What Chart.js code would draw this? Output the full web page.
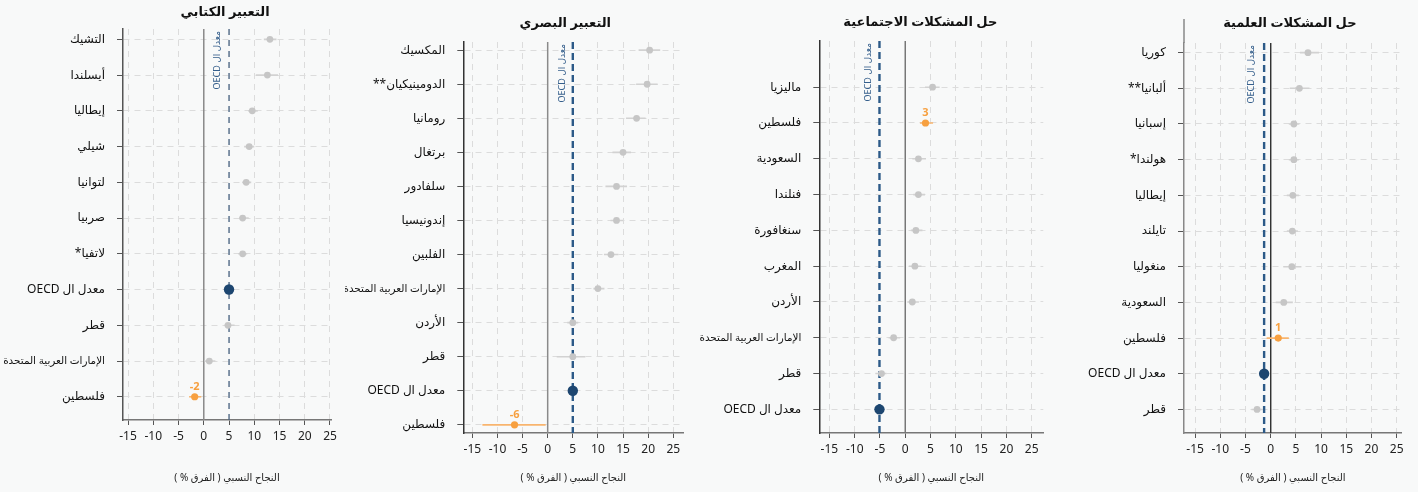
<!DOCTYPE html>
<html lang="ar">
<head>
<meta charset="utf-8">
<script src="https://cdn.jsdelivr.net/npm/chart.js@4.4.1/dist/chart.umd.min.js"></script>
<style>
  html, body { margin: 0; padding: 0; background: #f8f9f9; }
  #wrap { position: relative; width: 1418px; height: 492px; overflow: hidden; }
  .pn { position: absolute; top: 0; height: 492px; }
</style>
</head>
<body>
<div id="wrap">
  <div class="pn" style="left:0;width:345px"><canvas id="c1"></canvas></div>
  <div class="pn" style="left:345px;width:350px"><canvas id="c2"></canvas></div>
  <div class="pn" style="left:695px;width:360px"><canvas id="c3"></canvas></div>
  <div class="pn" style="left:1055px;width:363px"><canvas id="c4"></canvas></div>
</div>
<script>
// ---- data ----
const xTicks = [-15, -10, -5, 0, 5, 10, 15, 20, 25];
const xTitle = 'النجاح النسبي ( الفرق % )';
const oecdName = 'معدل ال OECD';
const palName = 'فلسطين';

// التعبير الكتابي
const p1Title = 'التعبير الكتابي';
const p1Labels = ['التشيك', 'أيسلندا', 'إيطاليا', 'شيلي', 'لتوانيا', 'صربيا', 'لاتفيا*', oecdName, 'قطر', 'الإمارات العربية المتحدة', palName];
const p1Values = [13.1, 12.6, 9.6, 9.0, 8.4, 7.7, 7.7, 5.0, 4.8, 1.1, -1.8];
const p1Low    = [11.9, 10.3, 8.8, 8.0, 7.6, 7.0, 6.8, null, 4.1, 0.1, -2.9];
const p1High   = [14.4, 14.7, 10.7, 10.0, 9.4, 8.9, 8.6, null, 6.1, 2.3, -0.5];
const p1PalText = '-2';

// التعبير البصري
const p2Title = 'التعبير البصري';
const p2Labels = ['المكسيك', 'الدومينيكيان**', 'رومانيا', 'برتغال', 'سلفادور', 'إندونيسيا', 'الفلبين', 'الإمارات العربية المتحدة', 'الأردن', 'قطر', oecdName, palName];
const p2Values = [20.3, 19.8, 17.7, 15.0, 13.7, 13.7, 12.6, 10.0, 5.0, 5.0, 5.0, -6.6];
const p2Low    = [18.1, 17.6, 15.6, 12.9, 11.5, 12.5, 11.2, 9.1, 3.9, 1.8, null, -13.0];
const p2High   = [22.4, 21.9, 19.5, 16.6, 15.8, 15.0, 14.1, 11.3, 6.1, 7.5, null, -0.4];
const p2PalText = '-6';

// حل المشكلات الاجتماعية
const p3Title = 'حل المشكلات الاجتماعية';
const p3Labels = ['ماليزيا', palName, 'السعودية', 'فنلندا', 'سنغافورة', 'المغرب', 'الأردن', 'الإمارات العربية المتحدة', 'قطر', oecdName];
const p3Values = [5.4, 4.0, 2.6, 2.6, 2.1, 1.9, 1.4, -2.3, -4.7, -5.1];
const p3Low    = [3.9, 2.9, 1.4, 1.6, 1.1, 0.7, 0.4, -3.3, -5.9, null];
const p3High   = [6.8, 5.5, 4.1, 3.9, 3.4, 3.2, 2.7, -1.0, -3.7, null];
const p3PalText = '3';

// حل المشكلات العلمية
const p4Title = 'حل المشكلات العلمية';
const p4Labels = ['كوريا', 'ألبانيا**', 'إسبانيا', 'هولندا*', 'إيطاليا', 'تايلند', 'منغوليا', 'السعودية', palName, oecdName, 'قطر'];
const p4Values = [7.4, 5.7, 4.6, 4.6, 4.4, 4.3, 4.2, 2.6, 1.5, -1.3, -2.7];
const p4Low    = [5.8, 3.8, 3.6, 3.6, 3.2, 3.2, 2.5, 1.0, -0.8, null, -3.8];
const p4High   = [9.6, 7.7, 5.7, 5.6, 5.6, 5.4, 6.1, 4.4, 3.6, null, -1.6];
const p4PalText = '1';

// ---- style ----
const FONT = "'Noto Sans', 'DejaVu Sans', sans-serif";
const GREY = '#c6c6c6', BAR = '#d2d2d2', ORANGE = '#f7a040', NAVY = '#1d4670', DASH = '#2c5a88';
const GRID = '#dcdcdc';
Chart.defaults.font.family = FONT;

// right-to-left embedding so mixed Arabic/Latin strings read correctly
const ar = s => '\u202B' + s + '\u202C';

const panelDeco = {
  id: 'panelDeco',
  afterDatasetsDraw(chart, args, o) {
    const { ctx, chartArea: ca, scales: { x, y } } = chart;
    ctx.save();
    // title
    ctx.font = 'bold 13px ' + FONT;
    ctx.fillStyle = '#111';
    ctx.textAlign = 'center';
    ctx.textBaseline = 'middle';
    ctx.fillText(ar(o.title), (ca.left + ca.right) / 2 + o.titleDx, o.titleY);
    ctx.restore();

    // vertical OECD label next to dashed line
    ctx.save();
    const ox = x.getPixelForValue(o.oecd);
    ctx.translate(ox - o.oecdDx, ca.top + 2);
    ctx.rotate(-Math.PI / 2);
    ctx.font = '9px ' + FONT;
    ctx.fillStyle = '#355f8c';
    ctx.textAlign = 'right';
    ctx.textBaseline = 'middle';
    ctx.fillText(ar(oecdName), 0, 0);
    ctx.restore();

    ctx.save();
    // Palestine value label
    ctx.font = 'bold 11px ' + FONT;
    ctx.fillStyle = ORANGE;
    ctx.textAlign = 'center';
    ctx.textBaseline = 'middle';
    ctx.fillText(o.palText, x.getPixelForValue(o.palX), y.getPixelForValue(o.palY) - 10);
    // extended y axis line (last panel)
    if (o.axisUp) {
      ctx.strokeStyle = o.axisColor;
      ctx.lineWidth = 1.5;
      ctx.beginPath();
      ctx.moveTo(ca.left, ca.top);
      ctx.lineTo(ca.left, ca.top - o.axisUp);
      ctx.stroke();
    }
    ctx.restore();
  }
};

function buildPanel(id, title, labels, values, low, high, palText, box) {
  const oi = labels.indexOf(oecdName);
  const pi = labels.indexOf(palName);
  const oecd = values[oi];

  const greyBars = [], palBar = [];
  labels.forEach((_, i) => {
    if (low[i] == null) return;
    const seg = [{ x: low[i], y: i }, { x: high[i], y: i }];
    if (i === pi) palBar.push(...seg);
    else greyBars.push(...seg, { x: null, y: null });
  });

  const dotColor = labels.map((_, i) => i === oi ? NAVY : i === pi ? ORANGE : GREY);
  const dotRadius = labels.map((_, i) => i === oi ? 5.2 : i === pi ? 3.6 : 3.4);

  const gridOpts = { color: GRID, lineWidth: 1, tickColor: '#555', tickBorderDash: [], tickWidth: 1 };

  new Chart(document.getElementById(id), {
    type: 'scatter',
    data: {
      datasets: [
        { data: values.map((v, i) => ({ x: v, y: i })), pointBackgroundColor: dotColor,
          pointRadius: dotRadius, pointBorderWidth: 0, pointHoverRadius: dotRadius },
        { data: palBar, showLine: true, borderColor: '#f8b46e', borderWidth: 1.6, pointRadius: 0 },
        { data: greyBars, showLine: true, spanGaps: false, borderColor: BAR, borderWidth: 1.6, pointRadius: 0 },
        { data: [{ x: oecd, y: box.yMin }, { x: oecd, y: box.yMax }], showLine: true,
          borderColor: box.dashColor, borderWidth: box.dashWidth, borderDash: box.dash, pointRadius: 0 },
        { data: [{ x: 0, y: box.yMin }, { x: 0, y: box.yMax }], showLine: true,
          borderColor: box.zeroColor, borderWidth: box.zeroWidth, pointRadius: 0 }
      ]
    },
    options: {
      responsive: true, maintainAspectRatio: false, animation: false,
      layout: { padding: { top: box.top, right: box.right, left: 0, bottom: 0 } },
      plugins: {
        legend: { display: false }, tooltip: { enabled: false },
        panelDeco: { title, titleDx: box.titleDx, titleY: box.titleY, oecd, oecdDx: box.oecdDx,
          palText, palX: values[pi], palY: pi, axisUp: box.axisUp, axisColor: box.axisColor }
      },
      scales: {
        x: {
          type: 'linear', min: box.xMin, max: box.xMax,
          afterBuildTicks: s => { s.ticks = xTicks.map(v => ({ value: v })); },
          afterFit: s => { s.height = box.xH; },
          grid: { ...gridOpts, tickLength: 5 },
          border: { color: '#777', width: 1.5, dash: [6, 5] },
          ticks: { color: '#222', font: { size: 12 }, padding: 4, maxRotation: 0, autoSkip: false },
          title: { display: true, text: ar(xTitle), color: '#222', font: { size: 10 }, padding: { top: 0, bottom: 8 } }
        },
        y: {
          type: 'linear', reverse: true, min: box.yMin, max: box.yMax,
          afterBuildTicks: s => { s.ticks = labels.map((_, i) => ({ value: i })); },
          afterFit: s => { s.width = box.yW; },
          grid: { ...gridOpts, tickLength: 6 },
          border: { color: box.axisColor, width: 1.5, dash: [6, 5] },
          ticks: {
            callback: v => ar(labels[v]), color: '#111', padding: 12, autoSkip: false,
            // the long name is set a little smaller so it fits the margin
            font: c => ({ size: labels[c.index] && labels[c.index].length > 16 ? 10.4 : 12 })
          }
        }
      }
    },
    plugins: [panelDeco]
  });
}

buildPanel('c1', p1Title, p1Labels, p1Values, p1Low, p1High, p1PalText, {
  yW: 123, right: 14, top: 29, xH: 72, xMin: -16, xMax: 25.2, yMin: -0.29, yMax: 10.65,
  titleDx: -2, titleY: 12, oecdDx: 12, axisColor: '#555',
  dashColor: '#4a6583', dashWidth: 1.3, dash: [6, 5], zeroColor: '#8a8a8a', zeroWidth: 1.5
});
buildPanel('c2', p2Title, p2Labels, p2Values, p2Low, p2High, p2PalText, {
  yW: 118.3, right: 11.7, top: 42, xH: 59, xMin: -16.8, xMax: 27, yMin: -0.24, yMax: 11.24,
  titleDx: -8, titleY: 23, oecdDx: 10, axisColor: '#333',
  dashColor: DASH, dashWidth: 2.4, dash: [7, 4], zeroColor: '#8a8a8a', zeroWidth: 1.5
});
buildPanel('c3', p3Title, p3Labels, p3Values, p3Low, p3High, p3PalText, {
  yW: 124.3, right: 11.7, top: 41, xH: 59, xMin: -17, xMax: 27.3, yMin: -1.29, yMax: 9.66,
  titleDx: -11, titleY: 22, oecdDx: 11, axisColor: '#333',
  dashColor: DASH, dashWidth: 2.4, dash: [7, 4], zeroColor: '#777', zeroWidth: 1.5
});
buildPanel('c4', p4Title, p4Labels, p4Values, p4Low, p4High, p4PalText, {
  yW: 129, right: 16.3, top: 43, xH: 59, xMin: -17.2, xMax: 26, yMin: -0.27, yMax: 10.66,
  titleDx: -3, titleY: 23, oecdDx: 13, axisColor: '#888', axisUp: 24,
  dashColor: DASH, dashWidth: 2.4, dash: [7, 4], zeroColor: '#333', zeroWidth: 1
});
</script>
</body>
</html>
